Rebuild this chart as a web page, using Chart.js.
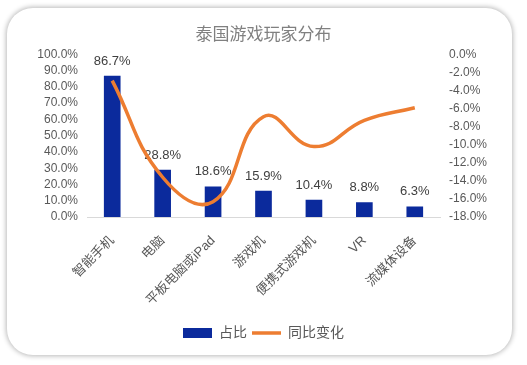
<!DOCTYPE html>
<html>
<head>
<meta charset="utf-8">
<script src="https://cdn.jsdelivr.net/npm/chart.js@4"></script>
<style>
  html, body { margin: 0; padding: 0; background: #fff; }
  body { width: 527px; height: 365px; position: relative; overflow: hidden; }
  .card {
    position: absolute; left: 7px; top: 8px; width: 505px; height: 347px;
    border-radius: 26px; background: #fff;
    box-shadow: 0 0 5px 1px rgba(0, 0, 0, 0.28);
  }
  #wrap { position: absolute; left: 0; top: 0; width: 527px; height: 365px; }
</style>
</head>
<body>
<div class="card"></div>
<div id="wrap"><canvas id="gameChart"></canvas></div>
<script>
// 泰国游戏玩家分布
const categories = ["智能手机", "电脑", "平板电脑或iPad", "游戏机", "便携式游戏机", "VR", "流媒体设备"];
const shareValues = [86.7, 28.8, 18.6, 15.9, 10.4, 8.8, 6.3];
const yoyValues = [-2.9, -13.6, -16.3, -6.9, -10.2, -7.3, -5.9];
const seriesNames = ["占比", "同比变化"];

const fontFamily = "'Liberation Sans', 'Noto Sans CJK SC', sans-serif";
const gray = '#595959';

// labels over the bars, drawn before the line so the line sits on top
const barLabels = {
    id: 'barLabels',
    afterDatasetDraw(chart, args) {
        if (args.index !== 0) return;
        const { ctx } = chart;
        ctx.save();
        ctx.font = '13px ' + fontFamily;
        ctx.fillStyle = '#404040';
        ctx.textAlign = 'center';
        ctx.textBaseline = 'middle';
        args.meta.data.forEach((bar, i) => {
            ctx.fillText(shareValues[i].toFixed(1) + '%', bar.x, bar.y - 15);
        });
        ctx.restore();
    }
};

const ctx = document.getElementById('gameChart').getContext('2d');
new Chart(ctx, {
    data: {
        labels: categories,
        datasets: [
            {
                type: 'bar',
                label: seriesNames[0],
                data: shareValues,
                yAxisID: 'y',
                backgroundColor: '#0B2A9C',
                barThickness: 16,
                pointStyle: 'rect',
                order: 1
            },
            {
                type: 'line',
                label: seriesNames[1],
                data: yoyValues,
                yAxisID: 'y1',
                borderColor: '#ED7D31',
                backgroundColor: '#ED7D31',
                borderWidth: 3.5,
                pointRadius: 0,
                tension: 0.45,
                pointStyle: 'line',
                order: 0
            }
        ]
    },
    options: {
        responsive: true,
        maintainAspectRatio: false,
        animation: false,
        layout: { padding: { left: 0, right: 0, top: 0, bottom: 15 } },
        scales: {
            x: {
                grid: { display: false, drawTicks: false },
                border: { display: true, color: '#d9d9d9', width: 1 },
                ticks: {
                    color: gray,
                    font: { size: 13, family: fontFamily },
                    minRotation: 45,
                    maxRotation: 45,
                    padding: 16
                },
                afterFit(scale) { scale.height = 104; }
            },
            y: {
                position: 'left',
                min: 0,
                max: 100,
                grid: { display: false, drawTicks: false },
                border: { display: false },
                ticks: {
                    stepSize: 10,
                    autoSkip: false,
                    color: gray,
                    font: { size: 12, family: fontFamily },
                    padding: 9,
                    callback: v => v.toFixed(1) + '%'
                },
                afterFit(scale) { scale.width = 87; }
            },
            y1: {
                position: 'right',
                min: -18,
                max: 0,
                grid: { display: false, drawTicks: false },
                border: { display: false },
                ticks: {
                    stepSize: 2,
                    autoSkip: false,
                    color: gray,
                    font: { size: 12, family: fontFamily },
                    padding: 9,
                    callback: v => v.toFixed(1) + '%'
                },
                afterFit(scale) { scale.width = 87; }
            }
        },
        plugins: {
            title: {
                display: true,
                text: '泰国游戏玩家分布',
                color: '#808080',
                font: { size: 17, weight: 'normal', family: fontFamily },
                padding: { top: 25, bottom: 9 }
            },
            legend: {
                position: 'bottom',
                labels: {
                    usePointStyle: true,
                    pointStyleWidth: 29,
                    boxHeight: 10,
                    padding: 5,
                    color: gray,
                    font: { size: 14, family: fontFamily },
                    sort: (a, b) => a.datasetIndex - b.datasetIndex
                }
            },
            tooltip: { enabled: false }
        }
    },
    plugins: [barLabels]
});
</script>
</body>
</html>
